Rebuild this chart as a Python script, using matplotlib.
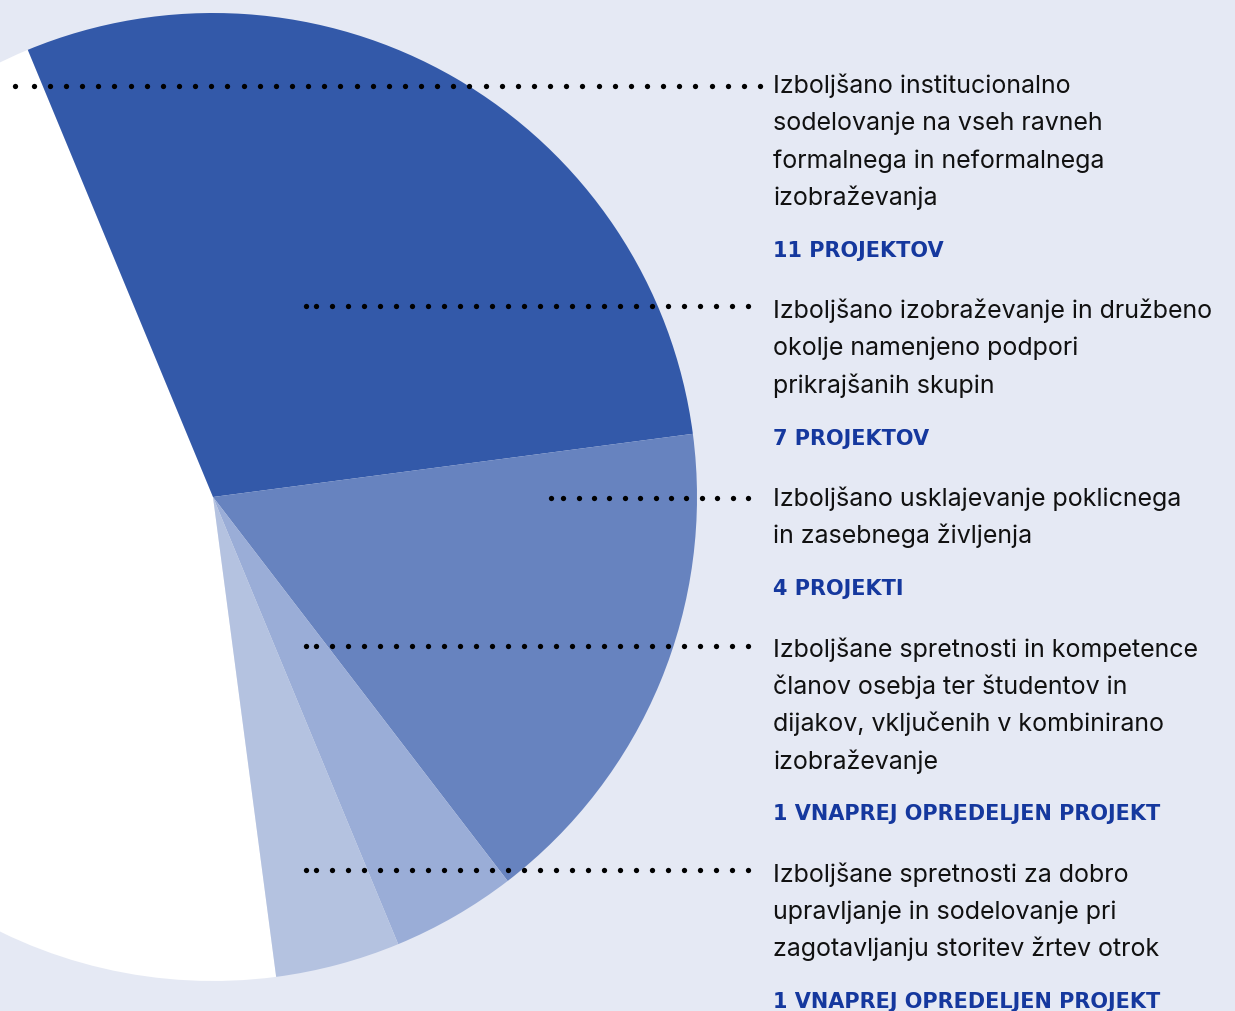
import numpy as np
import matplotlib.pyplot as plt

W, H = 1235, 1012
BG = "#e5e9f4"

# number of projects per outcome (slice order matches the label order)
projects = [11, 7, 4, 1, 1]
slice_colors = ["#ffffff", "#3359a9", "#6783bf", "#9aadd7", "#b4c2e0"]

outcomes = [
    "Izboljšano institucionalno\nsodelovanje na vseh ravneh\nformalnega in neformalnega\nizobraževanja",
    "Izboljšano izobraževanje in družbeno\nokolje namenjeno podpori\nprikrajšanih skupin",
    "Izboljšano usklajevanje poklicnega\nin zasebnega življenja",
    "Izboljšane spretnosti in kompetence\nčlanov osebja ter študentov in\ndijakov, vključenih v kombinirano\nizobraževanje",
    "Izboljšane spretnosti za dobro\nupravljanje in sodelovanje pri\nzagotavljanju storitev žrtev otrok",
]
counts = [
    "11 PROJEKTOV",
    "7 PROJEKTOV",
    "4 PROJEKTI",
    "1 VNAPREJ OPREDELJEN PROJEKT",
    "1 VNAPREJ OPREDELJEN PROJEKT",
]

# dotted leader lines (image pixel coords)
leader_y = [87, 307, 499, 647, 871]
leader_x0 = [15, 306, 551, 306, 306]
leader_x1 = [760, 748, 748, 748, 748]
leader_step = [16.14, 16, 15.4, 16, 16]


def yy(y):
    return H - y


fig = plt.figure(figsize=(W / 100, H / 100), dpi=100, facecolor=BG)
ax = fig.add_axes([0, 0, 1, 1])
ax.set_facecolor(BG)

ax.pie(projects, colors=slice_colors, startangle=-82.5, counterclock=False,
       center=(213, yy(498)), radius=484,
       wedgeprops=dict(linewidth=0))
ax.set_xlim(0, W)
ax.set_ylim(0, H)
ax.set_aspect("equal")
ax.axis("off")

for y, x0, x1, st in zip(leader_y, leader_x0, leader_x1, leader_step):
    xs = np.arange(x1, x0 + 4, -st)
    xs = np.append(xs, x0)
    ax.plot(xs, np.full(len(xs), yy(y)), ls="none", marker="o",
            ms=3.8, color="#000000", mec="none", zorder=5)

tx = 773
step = 37.3
base = 93
for text, cnt in zip(outcomes, counts):
    lines = text.split("\n")
    for i, line in enumerate(lines):
        ax.text(tx, yy(base + i * step), line, fontsize=18, family="Inter",
                color="#111111", va="baseline", ha="left")
    cy = base + (len(lines) - 1) * step + 51.8
    ax.text(tx, yy(cy), cnt, fontsize=15, family="DejaVu Sans",
            fontweight="bold", color="#15389e", va="baseline", ha="left")
    base = cy + 61.5

fig.savefig("out.png", dpi=100, facecolor=BG)
